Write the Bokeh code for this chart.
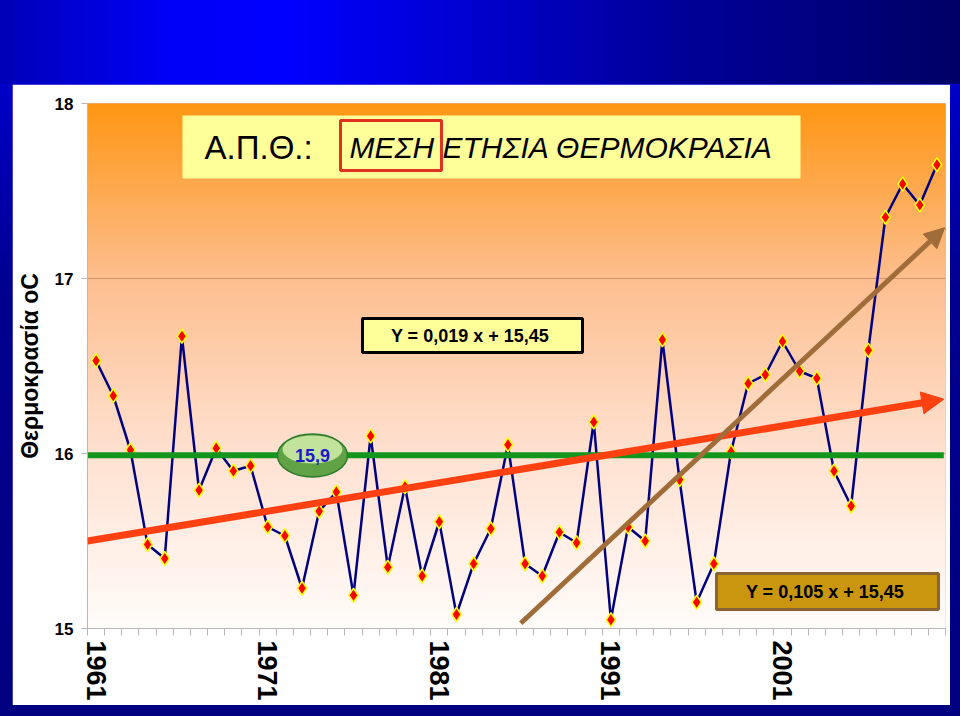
import numpy as np
from bokeh.plotting import figure
from bokeh.models import FixedTicker, BoxAnnotation, Label, Arrow, NormalHead, Div
from bokeh.layouts import column
from bokeh.embed import file_html
from bokeh.resources import INLINE

# ---------------- data ----------------
years = list(range(1961, 2011))
temps = [16.53, 16.33, 16.02, 15.48, 15.40, 16.67, 15.79, 16.03, 15.90, 15.93,
         15.58, 15.53, 15.23, 15.67, 15.78, 15.19, 16.10, 15.35, 15.81, 15.30,
         15.61, 15.08, 15.37, 15.57, 16.05, 15.37, 15.30, 15.55, 15.49, 16.18,
         15.05, 15.58, 15.50, 16.65, 15.85, 15.15, 15.37, 16.01, 16.40, 16.45,
         16.64, 16.47, 16.43, 15.90, 15.70, 16.59, 17.35, 17.54, 17.42, 17.65]
mean_value = 15.99
mean_label = "15,9"
y_ticks = [15, 16, 17, 18]
x_tick_years = [1961, 1971, 1981, 1991, 2001]
title_left = "Α.Π.Θ.:"
title_right = "ΜΕΣΗ ΕΤΗΣΙΑ ΘΕΡΜΟΚΡΑΣΙΑ"
y_title = "Θερμοκρασία oC"
eq_all = "Y = 0,019 x +  15,45"
eq_recent = "Y = 0,105 x +  15,45"
# hand-drawn trend arrows (start year, start value, end year, end value)
trend_all = [1960.5, 15.50, 2010.4, 16.31]
trend_recent = [1985.75, 15.03, 2010.45, 17.29]

FONT = "Liberation Sans"
XMIN, XMAX = 1960.5, 2010.5
YMIN, YMAX = 15, 18

# pixel helpers (page pixel -> data) for placing decorative annotations
def X(px):
    return XMIN + (px - 87.0) * (XMAX - XMIN) / 858.0

def Y(py):
    return YMAX - (py - 103.0) * (YMAX - YMIN) / 525.0

p = figure(width=938, height=621, x_range=(XMIN, XMAX), y_range=(YMIN, YMAX),
           output_backend="svg", toolbar_location=None,
           min_border_left=75, min_border_right=5, min_border_top=19, min_border_bottom=77,
           margin=(0, 10, 11, 12), border_fill_color="white", background_fill_color="white",
           outline_line_color=None)

# gradient plot background
stops_t = [0.0, 0.33, 0.67, 1.0]
stops_c = np.array([[255, 150, 18], [253, 190, 142], [255, 226, 210], [255, 252, 250]], dtype=float)
n = 150
edges = np.linspace(YMAX, YMIN, n + 1)
tmid = (np.arange(n) + 0.5) / n
cols = []
for t in tmid:
    r = np.interp(t, stops_t, stops_c[:, 0])
    g = np.interp(t, stops_t, stops_c[:, 1])
    b = np.interp(t, stops_t, stops_c[:, 2])
    cols.append("#%02x%02x%02x" % (int(r), int(g), int(b)))
bg = p.quad(left=XMIN, right=XMAX, top=edges[:-1], bottom=edges[1:],
            fill_color=cols, line_color=cols, line_width=1)
bg.level = "image"

# axes
p.yaxis.ticker = FixedTicker(ticks=y_ticks)
p.xaxis.ticker = FixedTicker(ticks=x_tick_years, minor_ticks=[XMIN + i for i in range(51)])
p.xgrid.grid_line_color = None
p.ygrid.grid_line_color = "#c28a60"
p.ygrid.grid_line_alpha = 0.8

for ax in (p.xaxis[0], p.yaxis[0]):
    ax.axis_line_color = "#b8b8b8"
    ax.major_label_text_font = FONT
    ax.major_label_text_font_style = "bold"
    ax.major_label_text_color = "black"

p.yaxis.major_tick_line_color = "#b8b8b8"
p.yaxis.major_tick_out = 6
p.yaxis.major_tick_in = 0
p.yaxis.minor_tick_line_color = None
p.yaxis.major_label_text_font_size = "17px"
p.yaxis.major_label_standoff = 8
p.yaxis.axis_label = y_title
p.yaxis.axis_label_text_font = FONT
p.yaxis.axis_label_text_font_style = "bold"
p.yaxis.axis_label_text_font_size = "23px"
p.yaxis.axis_label_text_color = "black"
p.yaxis.axis_label_standoff = 9

p.xaxis.major_tick_line_color = None
p.xaxis.major_tick_out = 7
p.xaxis.major_tick_in = 0
p.xaxis.minor_tick_line_color = "#b8b8b8"
p.xaxis.minor_tick_out = 7
p.xaxis.minor_tick_in = 0
p.xaxis.major_label_orientation = "vertical"
p.xaxis.major_label_text_font_size = "27px"
p.xaxis.major_label_standoff = 5

# series
p.line(years, temps, line_color="#000080", line_width=2.5)
p.scatter(years, temps, marker="diamond", size=14, fill_color="#ff0000",
          line_color="#ffff00", line_width=1.5)

# mean line
p.line([XMIN, XMAX - 0.1], [mean_value, mean_value], line_color="#14961e", line_width=6)

# mean ellipse label
p.ellipse(x=[X(312)], y=[Y(455)], width=70, height=43, width_units="screen",
          height_units="screen", fill_color="#62a246", line_color="#2b7a2b", line_width=1.5)
p.ellipse(x=[X(312)], y=[Y(449)], width=60, height=28, width_units="screen",
          height_units="screen", fill_color="#d4eeaa", line_color=None, fill_alpha=0.85)
p.add_layout(Label(x=X(312), y=Y(455), text=mean_label, text_align="center",
                   text_baseline="middle", text_color="#1a1acc", text_font=FONT,
                   text_font_style="bold", text_font_size="18px"))

# trend arrows
p.add_layout(Arrow(end=NormalHead(size=22, fill_color="#ff4010", line_color="#ff4010"),
                   x_start=trend_all[0], y_start=trend_all[1],
                   x_end=trend_all[2], y_end=trend_all[3],
                   line_color="#ff4010", line_width=7))
p.add_layout(Arrow(end=NormalHead(size=20, fill_color="#a06c3a", line_color="#a06c3a"),
                   x_start=trend_recent[0], y_start=trend_recent[1],
                   x_end=trend_recent[2], y_end=trend_recent[3],
                   line_color="#a06c3a", line_width=5))

# title box
p.add_layout(BoxAnnotation(left=X(182), right=X(800), top=Y(115), bottom=Y(178),
                           fill_color="#ffff99", fill_alpha=1, line_color=None))
p.add_layout(BoxAnnotation(left=X(340), right=X(441), top=Y(120), bottom=Y(170),
                           fill_alpha=0, line_color="#e0321e", line_alpha=1, line_width=3))
p.add_layout(Label(x=X(204), y=Y(147), text=title_left, text_baseline="middle",
                   text_font=FONT, text_font_size="33px", text_color="black"))
p.add_layout(Label(x=X(349), y=Y(147), text=title_right, text_baseline="middle",
                   text_font=FONT, text_font_size="30px", text_font_style="italic",
                   text_color="black"))

# equation boxes
p.add_layout(BoxAnnotation(left=X(362), right=X(582), top=Y(318), bottom=Y(352),
                           fill_color="#ffff99", fill_alpha=1, line_color="black",
                           line_alpha=1, line_width=3))
p.add_layout(Label(x=X(472), y=Y(335), text=eq_all, text_align="center", text_baseline="middle",
                   text_font=FONT, text_font_style="bold", text_font_size="18px",
                   text_color="black"))
p.add_layout(BoxAnnotation(left=X(716), right=X(938), top=Y(573), bottom=Y(609),
                           fill_color="#c9960e", fill_alpha=1, line_color="#8a6434",
                           line_alpha=1, line_width=3))
p.add_layout(Label(x=X(827), y=Y(591), text=eq_recent, text_align="center", text_baseline="middle",
                   text_font=FONT, text_font_style="bold", text_font_size="18px",
                   text_color="black"))

band = Div(text="", width=960, height=84, margin=(0, 0, 0, 0),
           styles={"background": "linear-gradient(to right, #0000b8 0%, #0000f8 18%, #0000ff 30%, #00009a 70%, #000066 100%)"})

layout = column(band, p, spacing=0,
                styles={"background": "linear-gradient(to bottom, #0000e0, #000090 40%, #000080)"})

open("out.html", "w").write(file_html(layout, INLINE))
